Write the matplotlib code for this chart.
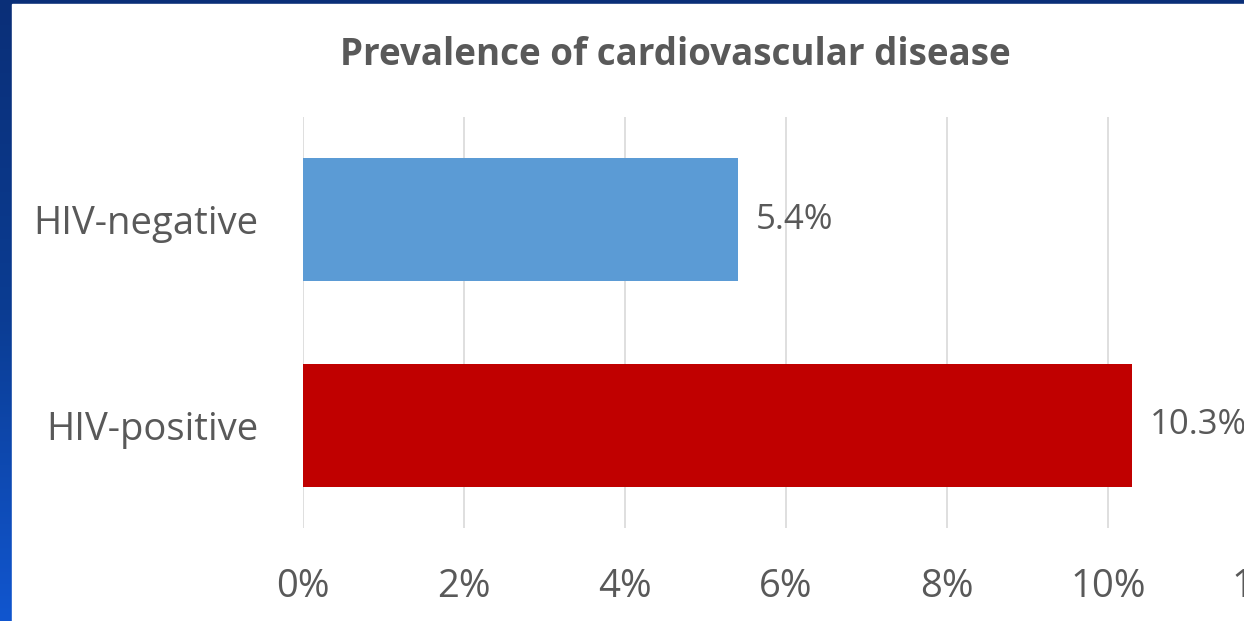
import numpy as np
import matplotlib
matplotlib.use("Agg")
import matplotlib.pyplot as plt
from matplotlib.patches import Rectangle
from matplotlib.ticker import FuncFormatter

# Data
categories = ["HIV-positive", "HIV-negative"]
prevalence = [10.3, 5.4]
bar_colors = ["#C00000", "#5B9BD5"]
x_ticks = [0, 2, 4, 6, 8, 10, 12]
title = "Prevalence of cardiovascular disease"

plt.rcParams["font.family"] = ["Open Sans", "DejaVu Sans"]
TEXT = "#595959"

W, H = 1244, 621
fig = plt.figure(figsize=(W / 100, H / 100), dpi=100)

# Slide background: blue gradient, then the white chart area on top
bg = fig.add_axes([0, 0, 1, 1], zorder=-10)
bg.set_axis_off()
grad = np.linspace(0, 1, 256).reshape(-1, 1)
cmap = matplotlib.colors.LinearSegmentedColormap.from_list(
    "slide", ["#0A2F78", "#0B3C92", "#1156CF"])
bg.imshow(grad, aspect="auto", cmap=cmap, extent=[0, 1, 1, 0])
bg.set_xlim(0, 1)
bg.set_ylim(1, 0)
bg.add_patch(Rectangle((12 / W, 0), 1, 1 - 4 / H, color="white",
                       transform=bg.transAxes))

ax = fig.add_axes([303 / W, 93 / H, 966 / W, 411 / H])
ax.set_facecolor("none")
y = np.arange(len(categories))
ax.barh(y, prevalence, height=0.6, color=bar_colors, zorder=3)
ax.set_xlim(0, 12)
ax.set_ylim(-0.5, 1.5)
ax.set_xticks(x_ticks)
ax.xaxis.set_major_formatter(FuncFormatter(lambda v, p: f"{v:.0f}%"))
ax.set_yticks(y)
ax.set_yticklabels(categories)
ax.grid(axis="x", color="#D9D9D9", linewidth=1.2, zorder=0)
for s in ax.spines.values():
    s.set_visible(False)
ax.tick_params(axis="both", length=0, colors=TEXT, labelsize=27.5)
ax.tick_params(axis="x", pad=29)
ax.tick_params(axis="y", pad=32)

for yi, v in zip(y, prevalence):
    ax.annotate(f"{v:.1f}%", (v, yi), xytext=(13, 0), textcoords="offset points",
                va="center", ha="left", fontsize=25, color=TEXT)

fig.text(675 / W, 1 - 55 / H, title, ha="center", va="center",
         fontsize=26.5, fontweight="bold", color=TEXT)

fig.savefig("out.png", dpi=100)
